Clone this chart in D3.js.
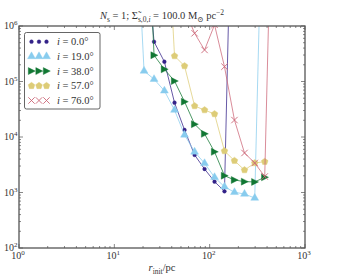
<!DOCTYPE html>
<html>
<head>
<meta charset="utf-8">
<script src="https://cdn.jsdelivr.net/npm/d3@7"></script>
<style>
  body { margin: 0; background: #fff; }
  text { font-family: "Liberation Serif", "DejaVu Serif", serif; fill: #333; }
</style>
</head>
<body>
<div id="chart"></div>
<script>
/* shared radius grid (pc) */
const rInit = [16.1, 20.5, 26.1, 33.5, 42.8, 54.5, 69.5, 88.4, 112.5, 143, 182, 232, 297, 378, 486];

/* minimum mass per inclination, null = not computed */
const inclinations = ['0.0', '19.0', '38.0', '57.0', '76.0'];
const massI0  = [null, 6e7, 5.2e5, 2.27e5, 4.15e4, 1.34e4, 4.75e3, 2.65e3, 1.57e3, 1.05e3, 5e10, null, null, null, null];
const massI19 = [6e8, 1.55e5, 1.1e5, 6.8e4, 3.06e4, 1.09e4, 5.4e3, 3.36e3, 1.88e3, 1.27e3, 1.01e3, 940, 795, 1.3e10, null];
const massI38 = [null, 3e9, 2.97e5, 1.66e5, 1.02e5, 4.33e4, 1.7e4, 1.14e4, 5.4e3, 2.01e3, 1.68e3, 1.57e3, 1.55e3, 1.88e3, null];
const massI57 = [null, null, null, 8e8, 2.88e5, 1.9e5, 3.62e4, 3.06e4, 2.6e4, 5.6e3, 3.74e3, 2.54e3, 3.4e3, 3.59e3, null];
const massI76 = [null, null, null, null, null, 2e6, 7.4e5, 3.7e5, 1.05e6, 1.85e5, 2.02e4, 5.15e3, 3.4e3, 1.94e3, 8e10];

const xTicks = [1, 10, 100, 1000];
const yTicks = [1e2, 1e3, 1e4, 1e5, 1e6];

const width = 342, height = 276;
const margin = { left: 19, right: 37, top: 26, bottom: 28 };

const series = [
  { label: inclinations[0], values: massI0,  color: '#332288', marker: 'dot' },
  { label: inclinations[1], values: massI19, color: '#88CCEE', marker: 'tri' },
  { label: inclinations[2], values: massI38, color: '#117733', marker: 'right' },
  { label: inclinations[3], values: massI57, color: '#DDCC77', marker: 'pent' },
  { label: inclinations[4], values: massI76, color: '#CC6677', marker: 'x' }
];

const svg = d3.select('#chart').append('svg')
  .attr('width', width).attr('height', height);

const x = d3.scaleLog().domain([1, 1000]).range([margin.left, width - margin.right]);
const y = d3.scaleLog().domain([1e2, 1e6]).range([height - margin.bottom, margin.top]);

svg.append('clipPath').attr('id', 'clip')
  .append('rect')
  .attr('x', x.range()[0]).attr('y', y.range()[1])
  .attr('width', x.range()[1] - x.range()[0])
  .attr('height', y.range()[0] - y.range()[1]);

function markerPath(kind) {
  if (kind === 'dot') return d3.symbol(d3.symbolCircle, 11)();
  if (kind === 'tri') return d3.symbol(d3.symbolTriangle, 27)();
  if (kind === 'right') return 'M-3.2,-3.5L3.8,0L-3.2,3.5Z';
  if (kind === 'pent') {
    const r = 3.5
    return d3.range(5).map(k => {
      const a = -Math.PI / 2 + k * 2 * Math.PI / 5
      return (k ? 'L' : 'M') + (r * Math.cos(a)).toFixed(2) + ',' + (r * Math.sin(a)).toFixed(2)
    }).join('') + 'Z';
  }
  return 'M-3.2,-3.2L3.2,3.2M-3.2,3.2L3.2,-3.2';
}

function drawMarker(g, kind, color) {
  const p = g.append('path').attr('d', markerPath(kind));
  if (kind === 'x') p.attr('fill', 'none').attr('stroke', color).attr('stroke-width', 0.9);
  else p.attr('fill', color).attr('stroke', color).attr('stroke-width', 0.4);
}

const plot = svg.append('g').attr('clip-path', 'url(#clip)');

const line = d3.line()
  .defined(d => d.v !== null)
  .x(d => x(d.r))
  .y(d => y(d.v));

series.forEach(s => {
  const pts = s.values.map((v, k) => ({ r: rInit[k], v: v }));
  plot.append('path')
    .datum(pts)
    .attr('d', line)
    .attr('fill', 'none')
    .attr('stroke', s.color)
    .attr('stroke-width', 1)
    .attr('stroke-opacity', 0.75);
  pts.filter(d => d.v !== null).forEach(d => {
    const g = plot.append('g').attr('transform', `translate(${x(d.r)},${y(d.v)})`);
    drawMarker(g, s.marker, s.color);
  });
});

/* ticks, inward on all sides */
const axisColor = '#555';
const ticksG = svg.append('g').attr('stroke', axisColor).attr('stroke-width', 0.7);
const x0 = x.range()[0], x1 = x.range()[1], y0 = y.range()[0], y1 = y.range()[1];

function minorTicks(domain) {
  const out = [];
  for (let e = Math.log10(domain[0]); e < Math.log10(domain[1]); e++) {
    for (let m = 2; m <= 9; m++) out.push(m * Math.pow(10, e));
  }
  return out;
}

xTicks.forEach(t => {
  ticksG.append('line').attr('x1', x(t)).attr('x2', x(t)).attr('y1', y0).attr('y2', y0 - 4);
  ticksG.append('line').attr('x1', x(t)).attr('x2', x(t)).attr('y1', y1).attr('y2', y1 + 4);
});
minorTicks(x.domain()).forEach(t => {
  ticksG.append('line').attr('x1', x(t)).attr('x2', x(t)).attr('y1', y0).attr('y2', y0 - 2);
  ticksG.append('line').attr('x1', x(t)).attr('x2', x(t)).attr('y1', y1).attr('y2', y1 + 2);
});
yTicks.forEach(t => {
  ticksG.append('line').attr('y1', y(t)).attr('y2', y(t)).attr('x1', x0).attr('x2', x0 + 4);
  ticksG.append('line').attr('y1', y(t)).attr('y2', y(t)).attr('x1', x1).attr('x2', x1 - 4);
});
minorTicks(y.domain()).forEach(t => {
  ticksG.append('line').attr('y1', y(t)).attr('y2', y(t)).attr('x1', x0).attr('x2', x0 + 2);
  ticksG.append('line').attr('y1', y(t)).attr('y2', y(t)).attr('x1', x1).attr('x2', x1 - 2);
});

svg.append('rect')
  .attr('x', x0).attr('y', y1).attr('width', x1 - x0).attr('height', y0 - y1)
  .attr('fill', 'none').attr('stroke', axisColor).attr('stroke-width', 1.3);

/* tick labels 10^n */
function powLabel(sel, t) {
  sel.append('tspan').text('10');
  sel.append('tspan').attr('dy', -4).attr('font-size', 7).text(Math.round(Math.log10(t)));
}
xTicks.forEach(t => {
  const tx = svg.append('text').attr('x', x(t) - 1).attr('y', y0 + 11)
    .attr('text-anchor', 'middle').attr('font-size', 10);
  powLabel(tx, t);
});
yTicks.forEach(t => {
  const tx = svg.append('text').attr('x', x0 - 1.5).attr('y', y(t) + 3)
    .attr('text-anchor', 'end').attr('font-size', 10);
  powLabel(tx, t);
});

/* x label */
const xl = svg.append('text').attr('x', (x0 + x1) / 2).attr('y', height - 5)
  .attr('text-anchor', 'middle').attr('font-size', 10.5);
xl.append('tspan').attr('font-style', 'italic').text('r');
xl.append('tspan').attr('font-size', 7.5).attr('dy', 2.5).text('init');
xl.append('tspan').attr('dy', -2.5).text('/pc');

/* title */
const tt = svg.append('text').attr('x', (x0 + x1) / 2).attr('y', y1 - 7)
  .attr('text-anchor', 'middle').attr('font-size', 10.5);
tt.append('tspan').attr('font-style', 'italic').text('N');
tt.append('tspan').attr('font-size', 7.5).attr('dy', 2.5).text('s');
tt.append('tspan').attr('dy', -2.5).text(' = 1; \u03A3\u0303');
tt.append('tspan').attr('font-size', 7.5).attr('dy', 2.5).text('s,0,');
tt.append('tspan').attr('font-size', 7.5).attr('font-style', 'italic').text('i');
tt.append('tspan').attr('dy', -2.5).text(' = 100.0 M');
tt.append('tspan').attr('font-size', 7.5).attr('dy', 2.5).text('\u2299');
tt.append('tspan').attr('dy', -2.5).text(' pc');
tt.append('tspan').attr('font-size', 7.5).attr('dy', -4).text('\u22122');

/* legend */
const lg = svg.append('g');
lg.append('rect').attr('x', 24.5).attr('y', 32.5).attr('width', 75.5).attr('height', 76.5)
  .attr('rx', 2).attr('fill', '#fff').attr('stroke', '#555').attr('stroke-width', 0.9);
series.forEach((s, k) => {
  const ry = 41.7 + k * 14.7;
  [31.5, 39, 46.5].forEach(mx => {
    const g = lg.append('g').attr('transform', `translate(${mx},${ry})`);
    drawMarker(g, s.marker, s.color);
  });
  const tx = lg.append('text').attr('x', 57).attr('y', ry + 3.5).attr('font-size', 10.5);
  tx.append('tspan').attr('font-style', 'italic').text('i');
  tx.append('tspan').text(' = ' + s.label + '\u00B0');
});
</script>
</body>
</html>
